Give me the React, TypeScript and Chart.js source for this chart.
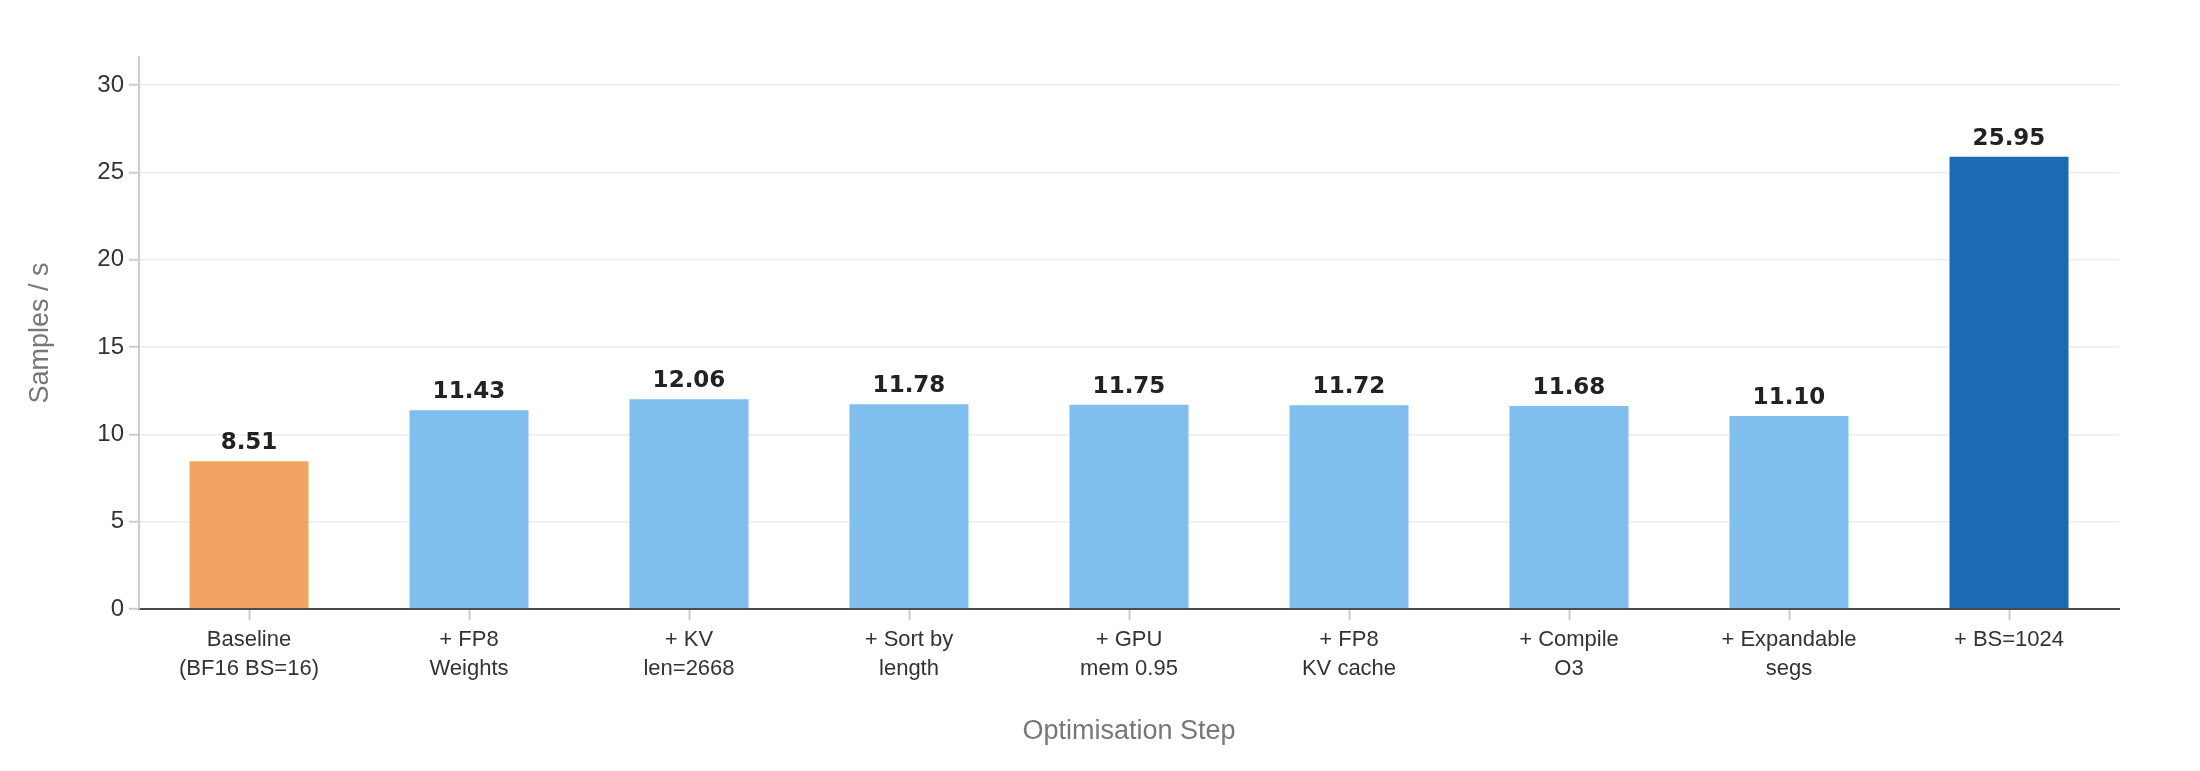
import React, { useEffect, useRef } from "react";
import { Chart, registerables } from "chart.js";

Chart.register(...registerables);

const steps: string[][] = [
  ["Baseline", "(BF16 BS=16)"],
  ["+ FP8", "Weights"],
  ["+ KV", "len=2668"],
  ["+ Sort by", "length"],
  ["+ GPU", "mem 0.95"],
  ["+ FP8", "KV cache"],
  ["+ Compile", "O3"],
  ["+ Expandable", "segs"],
  ["+ BS=1024"],
];

const samplesPerSecond: number[] = [8.51, 11.43, 12.06, 11.78, 11.75, 11.72, 11.68, 11.1, 25.95];

const barColors: string[] = [
  "#F2A462",
  "#80BEEE",
  "#80BEEE",
  "#80BEEE",
  "#80BEEE",
  "#80BEEE",
  "#80BEEE",
  "#80BEEE",
  "#1B6BB3",
];

const yTitle = "Samples / s";
const xTitle = "Optimisation Step";
const yMax = 31.6;

const W = 2200;
const H = 771;

// Bold value printed above each bar
const valueLabels = {
  id: "valueLabels",
  afterDatasetsDraw(chart: any) {
    const { ctx } = chart;
    const meta = chart.getDatasetMeta(0);
    const data = chart.data.datasets[0].data as number[];
    ctx.save();
    ctx.font = "bold 23px 'DejaVu Sans'";
    ctx.fillStyle = "#222222";
    ctx.textAlign = "center";
    ctx.textBaseline = "alphabetic";
    meta.data.forEach((bar: any, i: number) => {
      ctx.fillText(data[i].toFixed(2), bar.x, bar.y - 11);
    });
    ctx.restore();
  },
};

export default function App() {
  const canvasRef = useRef<HTMLCanvasElement | null>(null);

  useEffect(() => {
    if (!canvasRef.current) return;
    const chart = new Chart(canvasRef.current, {
      type: "bar",
      data: {
        labels: steps,
        datasets: [
          {
            data: samplesPerSecond,
            backgroundColor: barColors,
            borderColor: "rgba(255,255,255,0.35)",
            borderWidth: 1,
            categoryPercentage: 1,
            barPercentage: 0.55,
          },
        ],
      },
      options: {
        responsive: false,
        animation: false,
        layout: { padding: { left: 0, right: 81, top: 57, bottom: 0 } },
        plugins: {
          legend: { display: false },
          tooltip: { enabled: false },
        },
        scales: {
          x: {
            grid: {
              display: true,
              offset: false,
              drawOnChartArea: false,
              drawTicks: true,
              tickLength: 11,
              tickColor: "#cccccc",
              tickWidth: 2,
            },
            border: { display: true, color: "#4a4a4a", width: 2 },
            ticks: {
              color: "#333333",
              padding: 5,
              font: { family: "'Liberation Sans'", size: 22, lineHeight: 1.32 },
              maxRotation: 0,
              autoSkip: false,
            },
            title: {
              display: true,
              text: xTitle,
              color: "#777777",
              font: { family: "'Liberation Sans'", size: 27, lineHeight: 1.2 },
              padding: { top: 0, bottom: 23 },
            },
            afterFit(scale: any) {
              scale.height = 162;
            },
          },
          y: {
            min: 0,
            max: yMax,
            grid: {
              color: "#ebebeb",
              lineWidth: 1.5,
              drawTicks: true,
              tickLength: 10,
              tickColor: "#cccccc",
              tickWidth: 2,
            },
            border: { display: true, color: "#cccccc", width: 2 },
            ticks: {
              stepSize: 5,
              includeBounds: false,
              color: "#333333",
              padding: 5,
              font: { family: "'Liberation Sans'", size: 24 },
            },
            title: {
              display: true,
              text: yTitle,
              color: "#777777",
              font: { family: "'Liberation Sans'", size: 27, lineHeight: 1.2 },
              padding: { top: 24, bottom: 0 },
            },
            afterFit(scale: any) {
              scale.width = 139;
            },
          },
        },
      },
      plugins: [valueLabels],
    });
    return () => chart.destroy();
  }, []);

  return (
    <div style={{ position: "fixed", left: 0, top: 0, width: W, height: H, background: "#ffffff" }}>
      <canvas ref={canvasRef} width={W} height={H} style={{ width: W, height: H, display: "block" }} />
    </div>
  );
}
